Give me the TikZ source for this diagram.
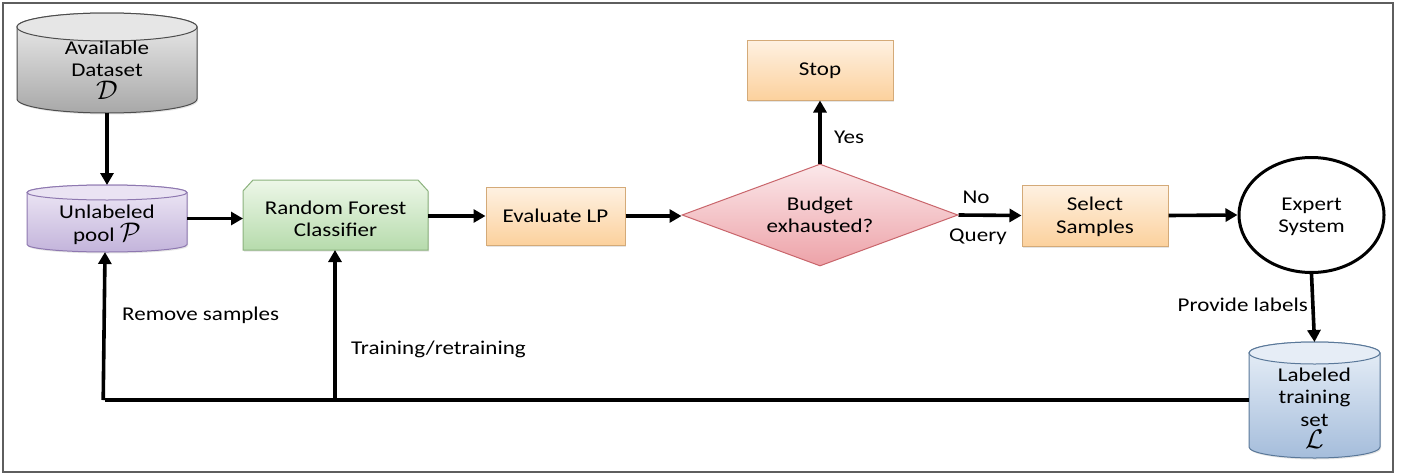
\documentclass[tikz,border=0pt]{standalone}
\usepackage{graphicx}
\usepackage{fontspec}
\setmainfont{Carlito}[FakeStretch=1.18]
\usetikzlibrary{arrows.meta,shapes.geometric,shadows}
\definecolor{graytop}{HTML}{EEEEEE}
\definecolor{graybot}{HTML}{A8A8A8}
\definecolor{grayedge}{HTML}{4D4D4D}
\definecolor{grayell}{HTML}{E6E6E6}
\definecolor{purptop}{HTML}{EFE9F6}
\definecolor{purpbot}{HTML}{C3B4DB}
\definecolor{purpedge}{HTML}{8E78B0}
\definecolor{purpell}{HTML}{EAE3F3}
\definecolor{bluetop}{HTML}{E9F0F8}
\definecolor{bluebot}{HTML}{A5BDDB}
\definecolor{blueedge}{HTML}{5A7899}
\definecolor{blueell}{HTML}{E6EDF6}
\definecolor{greentop}{HTML}{EDF7E8}
\definecolor{greenbot}{HTML}{B6DBAC}
\definecolor{greenedge}{HTML}{8BB27D}
\definecolor{orantop}{HTML}{FEF1E2}
\definecolor{oranbot}{HTML}{FCD19D}
\definecolor{oranedge}{HTML}{D4AA78}
\definecolor{redtop}{HTML}{FBE8EA}
\definecolor{redbot}{HTML}{EDA2A8}
\definecolor{rededge}{HTML}{C9656B}
\definecolor{framegray}{HTML}{5E5E5E}
% cylinder: x1, x2, ytop, ybot, ry, topcolor, botcolor, edge, ellipsefill
\newcommand\mycyl[9]{%
  \pgfmathsetmacro\cylrx{(#2-#1)/2}%
  \pgfmathsetmacro\cylcx{(#1+#2)/2}%
  \pgfmathsetmacro\cylyt{-(#3+#5)}%
  \pgfmathsetmacro\cylyb{-(#4-#5)}%
  \shade[top color=#6,bottom color=#7,draw=#8,line width=1pt,drop shadow={opacity=0.2,shadow xshift=1pt,shadow yshift=-1.5pt}]
    (#1,\cylyt) -- (#1,\cylyb) arc[start angle=180,end angle=360,x radius=\cylrx,y radius=#5]
    -- (#2,\cylyt) arc[start angle=0,end angle=180,x radius=\cylrx,y radius=#5] -- cycle;
  \filldraw[fill=#9,draw=#8,line width=1pt] (\cylcx,\cylyt) ellipse[x radius=\cylrx,y radius=#5];
}
\newcommand\bigcal[1]{\scalebox{1.3}{$\mathcal{#1}$}}
\begin{document}
\begin{tikzpicture}[x=1pt,y=1pt,
  hit/.style={rectangle,inner sep=0,outer sep=0,draw=none},
  txt/.style={font=\fontsize{19.5}{22.5}\selectfont,align=center,inner sep=0},
  orbox/.style={rectangle,draw=oranedge,line width=1pt,top color=orantop,bottom color=oranbot,inner sep=0,
     drop shadow={opacity=0.2,shadow xshift=1pt,shadow yshift=-1.5pt}},
  decbox/.style={diamond,aspect=2.7,draw=rededge,line width=1pt,top color=redtop,bottom color=redbot,inner sep=0},
  arr/.style={line width=3.6pt,-{Triangle[length=12pt,width=13pt]}},
  ln/.style={line width=3.6pt}]
\useasboundingbox (0,0) rectangle (1411,-474);
\fill[white] (0,0) rectangle (1411,-474);
\draw[framegray,line width=1.8pt] (3,-3) rectangle (1393,-472);

% Available dataset
\mycyl{17}{197}{13}{113}{14}{graytop}{graybot}{grayedge}{grayell}
\node[hit,minimum width=180pt,minimum height=100pt] (avail) at (107,-63) {};
\node[txt] (availt) at (107,-70) {Available\\Dataset\\\bigcal{D}};

% Unlabeled pool
\mycyl{27}{187}{185}{252}{7.5}{purptop}{purpbot}{purpedge}{purpell}
\node[hit,minimum width=160pt,minimum height=67pt] (unl) at (107,-218.5) {};
\node[txt] (unlt) at (107,-225) {Unlabeled\\pool \bigcal{P}};

% Random forest (top corners snipped)
\shade[top color=greentop,bottom color=greenbot,draw=greenedge,line width=1pt,
  drop shadow={opacity=0.2,shadow xshift=1pt,shadow yshift=-1.5pt}]
  (243,-191) -- (253,-180) -- (418,-180) -- (428,-191) -- (428,-250) -- (243,-250) -- cycle;
\node[hit,minimum width=185pt,minimum height=70pt] (rf) at (335.5,-215) {};
\node[txt] (rft) at (335.5,-219) {Random Forest\\Classifier};

% Evaluate LP
\node[orbox,minimum width=139pt,minimum height=58pt] (eval) at (555.5,-216) {};
\node[txt] (evalt) at (555.5,-216) {Evaluate LP};

% Decision
\node[decbox,minimum width=276pt,minimum height=102pt] (dec) at (820,-215) {};
\node[txt] (dect) at (820,-215) {Budget\\exhausted?};

% Stop
\node[orbox,minimum width=146pt,minimum height=60pt] (stop) at (820,-70) {};
\node[txt] (stopt) at (820,-71) {Stop};

% Select samples
\node[orbox,minimum width=146pt,minimum height=61pt] (sel) at (1095,-215.5) {};
\node[txt] (selt) at (1095,-217) {Select\\Samples};

% Expert system
\node[ellipse,draw=black,line width=3pt,fill=white,minimum width=145pt,minimum height=115pt,inner sep=0] (exp) at (1311.5,-215) {};
\node[txt] (expt) at (1311.5,-217) {Expert\\System};

% Labeled training set
\mycyl{1249}{1380}{342}{458}{11}{bluetop}{bluebot}{blueedge}{blueell}
\node[hit,minimum width=131pt,minimum height=116pt] (lab) at (1314.5,-400) {};
\node[txt] (labt) at (1314.5,-408) {Labeled\\training\\set\\\bigcal{L}};

% connectors
\draw[arr] (avail.south) -- (unl.north);
\draw[arr] (unl.east) -- (rf.west |- unl.east);
\draw[arr] (rf.east |- eval.west) -- (eval.west);
\draw[arr] (eval.east) -- (dec.west |- eval.east);
\draw[arr] (dec.north) -- (stop.south);
\draw[arr] (dec.east) -- (sel.west);
\draw[arr] (sel.east) -- (exp.west);
\draw[arr] (exp.south) -- (lab.north);

\coordinate (loopL) at (105,-400);
\coordinate (loopM) at (335,-400);
\draw[ln] (lab.west |- loopL) -- (loopL);
\draw[arr] ([xshift=-1.8pt]loopL) -- (loopL |- unl.south);
\draw[arr] (loopM) -- (loopM |- rf.south);

% labels
\node[txt] (yes) at (849,-137) {Yes};
\node[txt] (no) at (976,-197) {No};
\node[txt] (query) at (978,-237) {Query};
\node[txt,anchor=west] (rem) at (122,-315) {Remove samples};
\node[txt,anchor=west] (train) at (351,-349) {Training/retraining};
\node[txt,anchor=east] (prov) at (1308,-305) {Provide labels};
\end{tikzpicture}
\end{document}
